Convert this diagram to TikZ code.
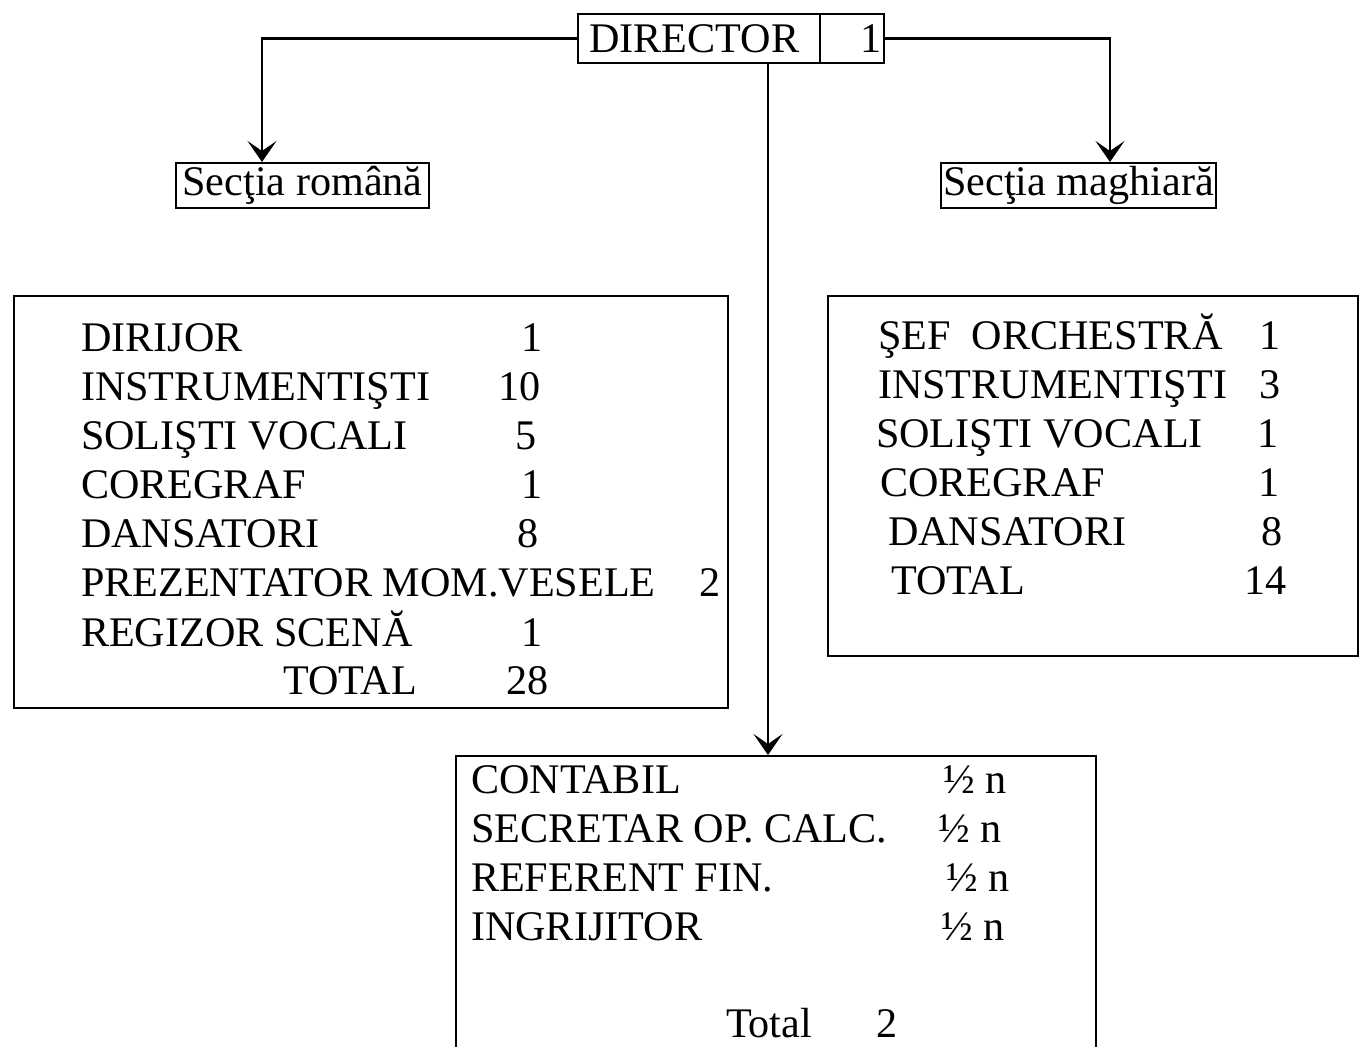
\documentclass[tikz,border=0pt]{standalone}
\usepackage{fontspec}
\setmainfont{Liberation Serif}
\usetikzlibrary{arrows.meta}

\begin{document}
\begin{tikzpicture}[x=0.02cm,y=-0.02cm,line width=1.2pt,
            every node/.style={font=\fontsize{24}{28}\selectfont},
            txt/.style={anchor=base west,inner sep=0pt},
            box/.style={draw,anchor=north west,inner sep=0pt},
            arr/.style={-{Stealth[length=0.42cm,width=0.58cm,inset=0.2cm]}}]
            \useasboundingbox (0,0) rectangle (1367,1047);

            \node[box,minimum height=0.98cm,text width=4.4cm,align=left,inner xsep=0.22cm] (director) at (577,13) {DIRECTOR};
            \node[box,minimum height=0.98cm,text width=1.18cm,align=right,inner xsep=0.05cm] (dirnum) at (819,13) {1};

            \node[box,minimum width=5.06cm,minimum height=0.9cm] (romana) at (175,162) {Secţia română};
            \node[box,minimum width=5.5cm,minimum height=0.9cm] (maghiara) at (940,162) {Secţia maghiară};

            \node[box,minimum width=14.28cm,minimum height=8.24cm] (leftbox) at (13,295) {};
            \node[box,minimum width=10.6cm,minimum height=7.2cm] (rightbox) at (827,295) {};
            \node[box,minimum width=12.8cm,minimum height=6.6cm] (admin) at (455,755) {};

            \coordinate (lft) at (262,0);
            \coordinate (rgt) at (1110,0);
            \coordinate (mid) at (768,0);
            \draw[arr] (director.west) -| (lft |- romana.north);
            \draw[arr] (dirnum.east) -| (rgt |- maghiara.north);
            \draw[arr] (director.south -| mid) -- (admin.north -| mid);

            \node[txt] (r1) at (80,352) {DIRIJOR};
            \node[txt] (r1n) at (520,352) {1};
            \node[txt] (r2) at (80,401) {INSTRUMENTIŞTI};
            \node[txt] (r2n) at (497,401) {10};
            \node[txt] (r3) at (80,450) {SOLIŞTI VOCALI};
            \node[txt] (r3n) at (514,450) {5};
            \node[txt] (r4) at (80,499) {COREGRAF};
            \node[txt] (r4n) at (520,499) {1};
            \node[txt] (r5) at (80,548) {DANSATORI};
            \node[txt] (r5n) at (516,548) {8};
            \node[txt] (r6) at (80,597) {PREZENTATOR MOM.VESELE};
            \node[txt] (r6n) at (698,597) {2};
            \node[txt] (r7) at (80,646) {REGIZOR SCENĂ};
            \node[txt] (r7n) at (520,646) {1};
            \node[txt] (r8) at (282,695) {TOTAL};
            \node[txt] (r8n) at (505,695) {28};

            \node[txt] (m1) at (877,350) {ŞEF\ \ ORCHESTRĂ};
            \node[txt] (m1n) at (1258,350) {1};
            \node[txt] (m2) at (877,399) {INSTRUMENTIŞTI};
            \node[txt] (m2n) at (1258,399) {3};
            \node[txt] (m3) at (875,448) {SOLIŞTI VOCALI};
            \node[txt] (m3n) at (1256,448) {1};
            \node[txt] (m4) at (879,497) {COREGRAF};
            \node[txt] (m4n) at (1257,497) {1};
            \node[txt] (m5) at (887,546) {DANSATORI};
            \node[txt] (m5n) at (1260,546) {8};
            \node[txt] (m6) at (890,595) {TOTAL};
            \node[txt] (m6n) at (1243,595) {14};

            \node[txt] (a1) at (470,793) {CONTABIL};
            \node[txt] (a1n) at (942,793) {½ n};
            \node[txt] (a2) at (470,842) {SECRETAR OP. CALC.};
            \node[txt] (a2n) at (937,842) {½ n};
            \node[txt] (a3) at (470,891) {REFERENT FIN.};
            \node[txt] (a3n) at (945,891) {½ n};
            \node[txt] (a4) at (470,940) {INGRIJITOR};
            \node[txt] (a4n) at (940,940) {½ n};
            \node[txt] (a5) at (725,1037) {Total};
            \node[txt] (a5n) at (875,1037) {2};
        \end{tikzpicture}
\end{document}
